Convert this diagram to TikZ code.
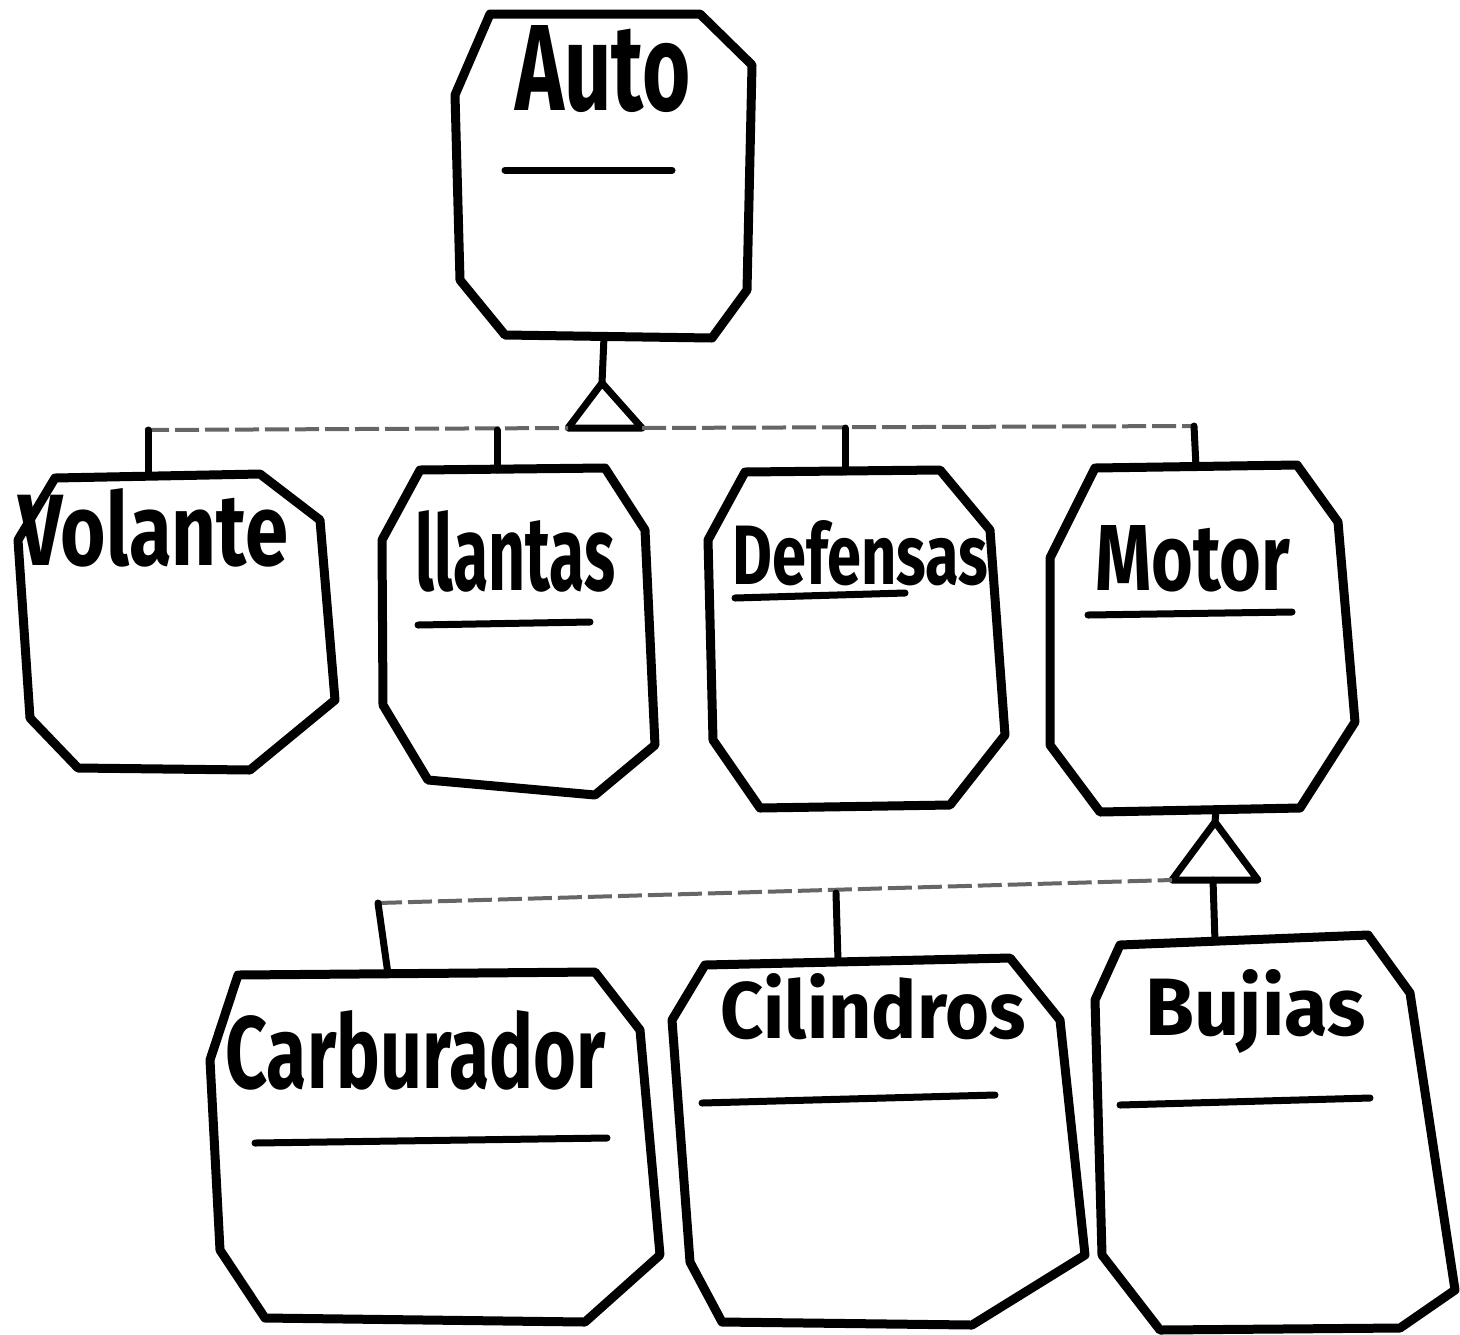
\documentclass[tikz,border=0pt]{standalone}
\usepackage{fontspec}
\setmainfont{Fira Sans}
\usepackage{graphicx}
\begin{document}
\begin{tikzpicture}[x=0.5pt,y=-0.5pt,
  box/.style={line width=4.5pt,line join=round,line cap=round},
  uline/.style={line width=3.5pt,line cap=round},
  tick/.style={line width=3.5pt,line cap=round},
  bus/.style={line width=2pt,black!60,dash pattern=on 12pt off 3pt},
  tri/.style={line width=3.5pt,line join=round},
  lbl/.style={inner sep=0pt,anchor=base west}]
\useasboundingbox (0,0) rectangle (1460,1334);
\newcommand{\hw}[3]{\resizebox{#1pt}{#2pt}{\fontsize{40}{40}\selectfont\bfseries #3}}

% ---------- class boxes ----------
% Auto
\draw[box] (490,14) -- (700,14) -- (752,65) -- (747,290) -- (712,338) -- (505,335) -- (460,280) -- (455,95) -- cycle;
\node[lbl] (auto) at (515,110) {\hw{87.5}{42.5}{Auto}};
\draw[uline] (505,170) -- (672,170);
\coordinate (autoB) at (604,337);

% Volante
\draw[box] (55,478) -- (260,474) -- (320,520) -- (335,700) -- (250,770) -- (78,768) -- (30,718) -- (18,540) -- cycle;
\node[lbl] (volante) at (18,565) {\hw{135}{38.5}{Volante}};
\coordinate (volT) at (148,476);

% llantas
\draw[box] (420,470) -- (605,468) -- (645,530) -- (655,745) -- (595,795) -- (428,780) -- (383,705) -- (382,540) -- cycle;
\node[lbl] (llantas) at (415,590) {\hw{100}{40}{llantas}};
\draw[uline] (418,625) -- (590,622);
\coordinate (llaT) at (497,470);

% Defensas
\draw[box] (745,472) -- (940,470) -- (990,530) -- (1005,735) -- (950,805) -- (760,808) -- (713,740) -- (708,540) -- cycle;
\node[lbl] (defensas) at (732,584) {\hw{128}{32}{Defensas}};
\draw[uline] (735,598) -- (905,593);
\coordinate (defT) at (845,472);

% Motor
\draw[box] (1095,468) -- (1297,465) -- (1338,522) -- (1355,722) -- (1300,808) -- (1100,812) -- (1050,745) -- (1050,558) -- cycle;
\node[lbl] (motor) at (1095,590) {\hw{97.5}{32.5}{Motor}};
\draw[uline] (1088,615) -- (1292,612);
\coordinate (motT) at (1196,467);
\coordinate (motB) at (1216,810);

% Carburador
\draw[box] (238,975) -- (595,972) -- (640,1030) -- (660,1255) -- (585,1322) -- (265,1318) -- (220,1250) -- (210,1060) -- cycle;
\node[lbl] (carburador) at (225,1088) {\hw{190}{39}{Carburador}};
\draw[uline] (255,1143) -- (607,1138);
\coordinate (carT) at (388,974);

% Cilindros
\draw[box] (705,965) -- (1010,958) -- (1060,1020) -- (1085,1255) -- (972,1325) -- (722,1322) -- (690,1262) -- (672,1020) -- cycle;
\node[lbl] (cilindros) at (720,1038) {\hw{152.5}{32.5}{Cilindros}};
\draw[uline] (702,1103) -- (995,1095);
\coordinate (cilT) at (838,961);

% Bujias
\draw[box] (1120,945) -- (1368,935) -- (1410,993) -- (1455,1290) -- (1400,1328) -- (1160,1330) -- (1102,1255) -- (1095,1000) -- cycle;
\node[lbl] (bujias) at (1145,1035) {\hw{110}{33}{Bujias}};
\draw[uline] (1120,1105) -- (1370,1098);
\coordinate (bujT) at (1215,942);

% ---------- generalisation: Auto ----------
\coordinate (t1apex) at (602,383);
\coordinate (t1L) at (568,428);
\coordinate (t1R) at (642,428);
\draw[tick] (autoB) -- (t1apex);
\draw[tri] (t1apex) -- (t1L) -- (t1R) -- cycle;
\coordinate (busL) at (145,430);
\coordinate (busR) at (1194,426);
\draw[bus] (busL) -- (t1L);
\draw[bus] (t1R) -- (busR);
\draw[tick] (148,430) -- (volT);
\draw[tick] (497,430) -- (llaT);
\draw[tick] (845,428) -- (defT);
\draw[tick] (busR) -- (motT);

% ---------- generalisation: Motor ----------
\coordinate (t2apex) at (1215,822);
\coordinate (t2L) at (1172,880);
\coordinate (t2R) at (1258,880);
\coordinate (t2M) at (1213,880);
\draw[tick] (motB) -- (t2apex);
\draw[tri] (t2apex) -- (t2L) -- (t2R) -- cycle;
\coordinate (bus2L) at (378,903);
\draw[bus] (bus2L) -- (t2L);
\draw[tick] (bus2L) -- (carT);
\draw[tick] (836,893) -- (cilT);
\draw[tick] (t2M) -- (bujT);
\end{tikzpicture}
\end{document}
